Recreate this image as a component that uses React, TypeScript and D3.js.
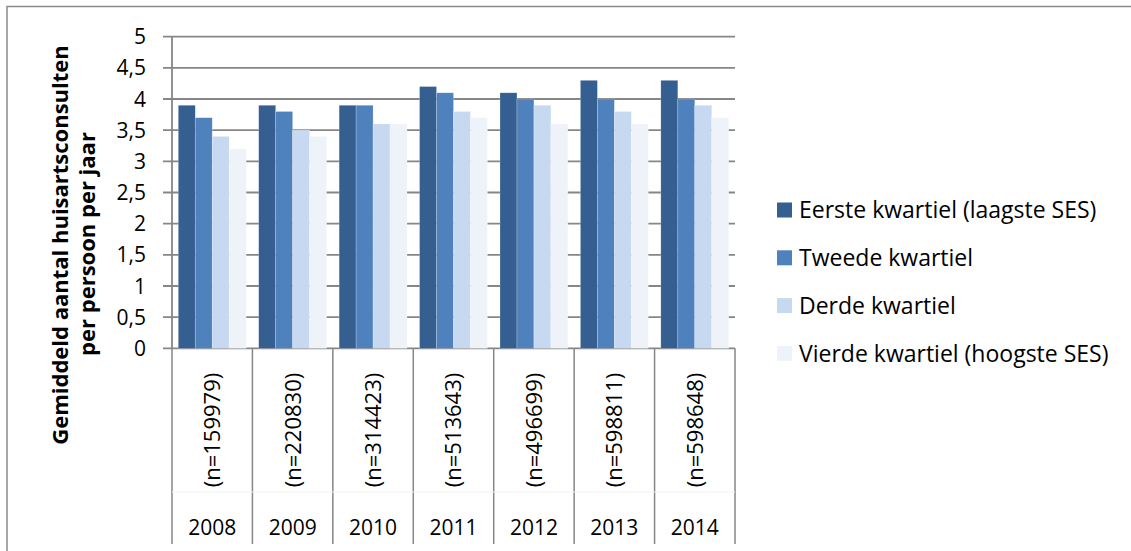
import React from "react";
import * as d3 from "d3";

const years = ["2008", "2009", "2010", "2011", "2012", "2013", "2014"];
const nLabels = ["(n=159979)", "(n=220830)", "(n=314423)", "(n=513643)", "(n=496699)", "(n=598811)", "(n=598648)"];
const seriesNames = [
  "Eerste kwartiel (laagste SES)",
  "Tweede kwartiel",
  "Derde kwartiel",
  "Vierde kwartiel (hoogste SES)",
];
const eerste = [3.9, 3.9, 3.9, 4.2, 4.1, 4.3, 4.3];
const tweede = [3.7, 3.8, 3.9, 4.1, 4.0, 4.0, 4.0];
const derde = [3.4, 3.5, 3.6, 3.8, 3.9, 3.8, 3.9];
const vierde = [3.2, 3.4, 3.6, 3.7, 3.6, 3.6, 3.7];
const yTicks = [0, 0.5, 1, 1.5, 2, 2.5, 3, 3.5, 4, 4.5, 5];
const colors = ["#355F91", "#4F81BD", "#C6D9F1", "#EEF3FA"];

const series = [eerste, tweede, derde, vierde];
const FONT = "'Open Sans', Lato, sans-serif";

export default function App() {
  const W = 1131, H = 551;
  const left = 172, right = 735, top = 36.7, bottom = 348.3;
  const x = d3.scaleBand<string>().domain(years).range([left, right]).paddingInner(0).paddingOuter(0);
  const inner = d3.scaleBand<number>().domain([0, 1, 2, 3]).range([0, x.bandwidth()]).paddingInner(0).paddingOuter(0.37);
  const y = d3.scaleLinear().domain([0, 5]).range([bottom, top]);
  const fmt = (v: number) => String(v).replace(".", ",");
  const axisCol = "#868686";
  return (
    <svg width={W} height={H} style={{ position: "absolute", left: 0, top: 0, background: "#fff" }}>
      <rect x={7} y={6.5} width={W + 10} height={H + 10} fill="#fff" stroke="#8a8a8a" strokeWidth={1.5} />
      {/* gridlines */}
      {yTicks.map((t) => (
        <g key={t}>
          <line x1={163} x2={right} y1={y(t)} y2={y(t)} stroke={axisCol} strokeWidth={1.8} />
          <text x={146} y={y(t)} dy="0.36em" textAnchor="end" fontFamily={FONT} fontSize={21} fill="#000">
            {fmt(t)}
          </text>
        </g>
      ))}
      {/* bars */}
      {years.map((yr, i) => (
        <g key={yr}>
          {series.map((s, k) => (
            <rect
              key={k}
              x={(x(yr) as number) + (inner(k) as number)}
              y={y(s[i])}
              width={inner.bandwidth()}
              height={bottom - y(s[i])}
              fill={colors[k]}
              stroke="rgba(255,255,255,0.35)"
              strokeWidth={0.6}
            />
          ))}
        </g>
      ))}
      {/* y axis line */}
      <line x1={left} x2={left} y1={top} y2={bottom} stroke={axisCol} strokeWidth={1.8} />
      {/* category dividers */}
      {[...years.map((yr) => x(yr) as number), right].map((px, i) => (
        <line key={i} x1={px} x2={px} y1={bottom} y2={544} stroke={axisCol} strokeWidth={1.5} />
      ))}
      <line x1={left} x2={right} y1={492} y2={492} stroke="#f3f3f3" strokeWidth={1} />
      {/* category labels */}
      {years.map((yr, i) => {
        const cx = (x(yr) as number) + x.bandwidth() / 2;
        return (
          <g key={yr}>
            <text
              transform={`translate(${cx},430) rotate(-90)`}
              textAnchor="middle"
              dy="0.36em"
              fontFamily={FONT}
              fontSize={22}
              fill="#000"
            >
              {nLabels[i]}
            </text>
            <text x={cx} y={535} textAnchor="middle" fontFamily={FONT} fontSize={21} fill="#000">
              {yr}
            </text>
          </g>
        );
      })}
      {/* y title */}
      <text transform="translate(68,245) rotate(-90)" textAnchor="middle" fontFamily={FONT} fontWeight="bold" fontSize={22} fill="#000">
        Gemiddeld aantal huisartsconsulten
      </text>
      <text transform="translate(95,244) rotate(-90)" textAnchor="middle" fontFamily={FONT} fontWeight="bold" fontSize={22} fill="#000">
        per persoon per jaar
      </text>
      {/* legend */}
      {seriesNames.map((name, k) => {
        const cy = 210 + k * 47.8;
        return (
          <g key={name}>
            <rect x={777} y={cy - 7.5} width={15} height={15} fill={colors[k]} />
            <text x={799} y={cy} dy="0.36em" fontFamily={FONT} fontSize={23} fill="#000">
              {name}
            </text>
          </g>
        );
      })}
    </svg>
  );
}
